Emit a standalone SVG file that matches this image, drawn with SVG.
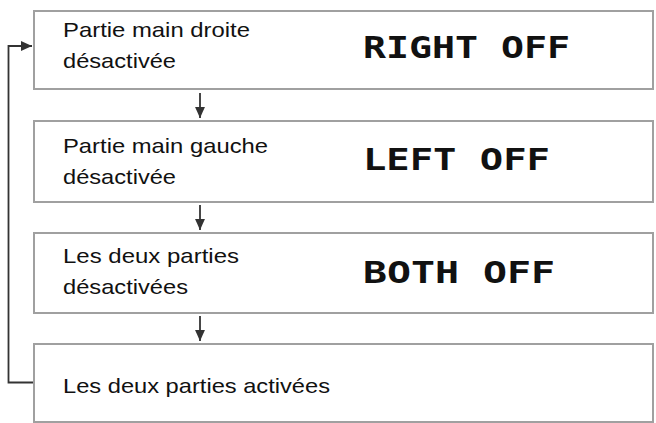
<svg xmlns="http://www.w3.org/2000/svg" width="656" height="423" viewBox="0 0 656 423">
<style>
.box{fill:#fff;stroke:#a0a0a0;stroke-width:2}
.t{font-family:"Liberation Sans",Arial,sans-serif;font-size:21px;fill:#111}
.lcd{font-family:"DejaVu Sans Mono","Liberation Mono",monospace;font-weight:bold;font-size:30px;fill:#111}
.c{fill:none;stroke:#333;stroke-width:1.8}
</style>
<defs>
<marker id="ah" viewBox="0 0 10 10" refX="10" refY="5" markerWidth="11" markerHeight="11" markerUnits="userSpaceOnUse" orient="auto">
<path d="M0,0.5 L10,5 L0,9.5 Z" fill="#333"/>
</marker>
</defs>
<rect width="656" height="423" fill="#fff"/>
<g id="connectors">
<line class="c" x1="200" y1="93" x2="200" y2="118" marker-end="url(#ah)"/>
<line class="c" x1="200" y1="205" x2="200" y2="230" marker-end="url(#ah)"/>
<line class="c" x1="200" y1="316" x2="200" y2="341" marker-end="url(#ah)"/>
<polyline class="c" points="34,382.5 8.5,382.5 8.5,46 32,46" marker-end="url(#ah)"/>
</g>
<g id="node1">
<rect class="box" x="34" y="11" width="619" height="78"/>
<text class="t" x="63" y="37" textLength="187" lengthAdjust="spacingAndGlyphs">Partie main droite</text>
<text class="t" x="63" y="68" textLength="113" lengthAdjust="spacingAndGlyphs">désactivée</text>
<text class="lcd" x="363" y="58" textLength="207" lengthAdjust="spacingAndGlyphs">RIGHT OFF</text>
</g>
<g id="node2">
<rect class="box" x="34" y="121" width="619" height="81"/>
<text class="t" x="63" y="153" textLength="205" lengthAdjust="spacingAndGlyphs">Partie main gauche</text>
<text class="t" x="63" y="184" textLength="113" lengthAdjust="spacingAndGlyphs">désactivée</text>
<text class="lcd" x="363" y="170" textLength="187" lengthAdjust="spacingAndGlyphs">LEFT OFF</text>
</g>
<g id="node3">
<rect class="box" x="34" y="233" width="619" height="80"/>
<text class="t" x="63" y="263" textLength="176" lengthAdjust="spacingAndGlyphs">Les deux parties</text>
<text class="t" x="63" y="294" textLength="125" lengthAdjust="spacingAndGlyphs">désactivées</text>
<text class="lcd" x="363" y="283" textLength="192" lengthAdjust="spacingAndGlyphs">BOTH OFF</text>
</g>
<g id="node4">
<rect class="box" x="34" y="344" width="619" height="78"/>
<text class="t" x="63" y="393" textLength="267" lengthAdjust="spacingAndGlyphs">Les deux parties activées</text>
</g>
</svg>
